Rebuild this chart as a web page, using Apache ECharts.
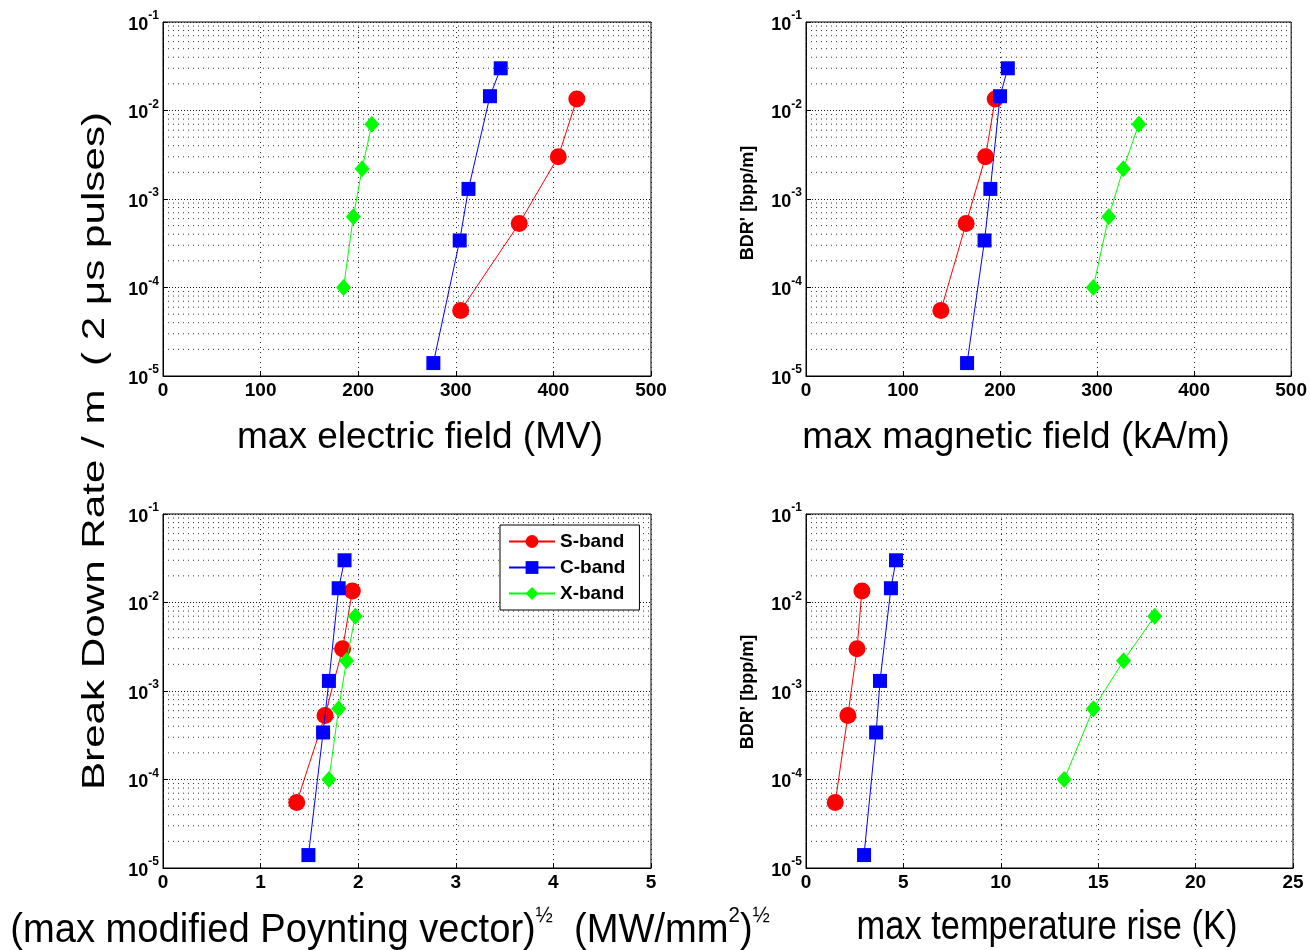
<!DOCTYPE html>
<html>
<head>
<meta charset="utf-8">
<script src="https://cdn.jsdelivr.net/npm/echarts@6/dist/echarts.min.js"></script>
<style>
html,body{margin:0;padding:0;background:#fff;}
#chart{width:1310px;height:950px;}
</style>
</head>
<body>
<div id="chart"></div>
<script>
// ---- data ----
const bandNames = ['S-band', 'C-band', 'X-band'];
const bdrS = [5.5e-5, 5.3e-4, 3.0e-3, 1.35e-2];
const bdrC = [1.4e-5, 3.4e-4, 1.3e-3, 1.45e-2, 3.0e-2];
const bdrX = [1.0e-4, 6.3e-4, 2.2e-3, 7.0e-3];

const eS = [305, 365, 405, 424];
const eC = [277, 304, 313, 335, 346];
const eX = [185, 195, 204, 214];

const hS = [139, 165, 185, 195];
const hC = [166, 184, 190, 200, 208];
const hX = [296, 312, 327, 343];

const pS = [1.37, 1.66, 1.84, 1.94];
const pC = [1.49, 1.64, 1.70, 1.80, 1.86];
const pX = [1.70, 1.80, 1.88, 1.97];

const tS = [1.50, 2.15, 2.62, 2.87];
const tC = [2.98, 3.60, 3.80, 4.36, 4.62];
const tX = [13.25, 14.75, 16.30, 17.90];

const xRanges = [[0, 500, 100], [0, 500, 100], [0, 5, 1], [0, 25, 5]];
const yMin = 1e-5, yMax = 1e-1;
const minorMultipliers = [2, 3, 4, 5, 6, 7, 8, 9];
const decades = [1e-5, 1e-4, 1e-3, 1e-2];

const xLabels = [
  'max electric field (MV)',
  'max magnetic field (kA/m)',
  '{n|(max modified Poynting vector)}{s|½}{n|  (MW/mm}{s|2}{n|)}{s|½}',
  'max temperature rise (K)'
];
const yLabelBig = 'Break Down Rate / m  ( 2 μs pulses)';
const yLabelSmall = "BDR' [bpp/m]";

// ---- layout ----
const grids = [
  {left: 163, top: 22, width: 488, height: 354},
  {left: 806, top: 22, width: 487, height: 354},
  {left: 163, top: 514, width: 488, height: 354},
  {left: 806, top: 514, width: 487, height: 354}
];
const FONT = '"Liberation Sans", Arial, Helvetica, sans-serif';
const colors = ['#ff0000', '#0000ff', '#00ff00'];
const symbols = ['circle', 'rect', 'diamond'];
const symbolSizes = [17, 14, [15, 17]];

const minorValues = [];
decades.forEach(d => minorMultipliers.forEach(m => minorValues.push(+(d * m).toPrecision(3))));

const xSets = [[eS, eC, eX], [hS, hC, hX], [pS, pC, pX], [tS, tC, tX]];
const ySets = [bdrS, bdrC, bdrX];

const xAxes = [], yAxes = [], series = [];
grids.forEach((g, i) => {
  const r = xRanges[i];
  xAxes.push({
    type: 'value', gridIndex: i, min: r[0], max: r[1], interval: r[2],
    axisLine: {show: true, lineStyle: {color: '#000', width: 1}},
    axisTick: {show: true, inside: true, length: 5, lineStyle: {color: '#000'}},
    axisLabel: {color: '#000', fontFamily: FONT, fontSize: 19, fontWeight: 'bold', margin: 5},
    splitLine: {show: true, lineStyle: {color: '#222', type: [1, 4], width: 1}}
  });
  yAxes.push({
    type: 'log', logBase: 10, gridIndex: i, min: yMin, max: yMax,
    axisLine: {show: true, lineStyle: {color: '#000', width: 1}},
    axisTick: {show: true, inside: true, length: 5, lineStyle: {color: '#000'}},
    axisLabel: {
      margin: 4,
      formatter: v => '{b|10}{s|' + Math.round(Math.log10(v)) + '}',
      rich: {
        b: {color: '#000', fontFamily: FONT, fontSize: 18, fontWeight: 'bold', verticalAlign: 'bottom', lineHeight: 24},
        s: {color: '#000', fontFamily: FONT, fontSize: 12, fontWeight: 'bold', verticalAlign: 'top', lineHeight: 24}
      }
    },
    splitLine: {show: true, lineStyle: {color: '#111', type: [1, 2], width: 1}}
  });
  // minor grid lines (axis structure, not data)
  const gridData = [];
  minorValues.forEach(v => { gridData.push([r[0], v], [r[1], v], ['-', '-']); });
  series.push({
    type: 'line', xAxisIndex: i, yAxisIndex: i, data: gridData, silent: true,
    symbol: 'none', connectNulls: false, z: 1,
    lineStyle: {color: '#333', type: [1, 4], width: 1},
    animation: false
  });
  for (let k = 0; k < 3; k++) {
    const xs = xSets[i][k], ys = ySets[k];
    series.push({
      name: bandNames[k], type: 'line', xAxisIndex: i, yAxisIndex: i,
      data: xs.map((x, j) => [x, ys[j]]),
      symbol: symbols[k], symbolSize: symbolSizes[k],
      itemStyle: {color: colors[k]},
      lineStyle: {color: colors[k], width: 1},
      z: 3 + k, animation: false
    });
  }
});

const graphics = [
  {type: 'text', x: 420, y: 438, style: {text: xLabels[0], font: '37px ' + FONT, fill: '#000', align: 'center', verticalAlign: 'middle'}},
  {type: 'text', x: 1016, y: 438, style: {text: xLabels[1], font: '37px ' + FONT, fill: '#000', align: 'center', verticalAlign: 'middle'}},
  {type: 'text', x: 390, y: 928, scaleX: 0.93, style: {text: xLabels[2], align: 'center', verticalAlign: 'middle',
    rich: {
      n: {fontFamily: FONT, fontSize: 41, color: '#000', verticalAlign: 'bottom', lineHeight: 46},
      s: {fontFamily: FONT, fontSize: 22, color: '#000', verticalAlign: 'top', lineHeight: 46}
    }}},
  {type: 'text', x: 1047, y: 928, scaleX: 0.84, style: {text: xLabels[3], font: '41px ' + FONT, fill: '#000', align: 'center', verticalAlign: 'middle'}},
  {type: 'text', x: 95, y: 451, rotation: Math.PI / 2, scaleX: 1.36, style: {text: yLabelBig, font: '31px ' + FONT, fill: '#000', align: 'center', verticalAlign: 'middle'}},
  {type: 'text', x: 748, y: 203, rotation: Math.PI / 2, style: {text: yLabelSmall, font: 'bold 18px ' + FONT, fill: '#000', align: 'center', verticalAlign: 'middle'}},
  {type: 'text', x: 748, y: 692, rotation: Math.PI / 2, style: {text: yLabelSmall, font: 'bold 18px ' + FONT, fill: '#000', align: 'center', verticalAlign: 'middle'}}
];

const chart = echarts.init(document.getElementById('chart'), null, {renderer: 'canvas'});
chart.setOption({
  animation: false,
  backgroundColor: '#fff',
  grid: grids.map(g => Object.assign({show: true, borderColor: '#000', borderWidth: 1, backgroundColor: '#fff', containLabel: false}, g)),
  xAxis: xAxes,
  yAxis: yAxes,
  legend: {
    data: bandNames, left: 500, top: 525, orient: 'vertical',
    itemWidth: 46, itemHeight: 16, itemGap: 7,
    padding: [7, 14, 7, 8],
    backgroundColor: '#fff', borderColor: '#000', borderWidth: 1,
    textStyle: {fontFamily: FONT, fontSize: 19, color: '#000', fontWeight: 'bold'}
  },
  series: series,
  graphic: graphics
});
</script>
</body>
</html>
